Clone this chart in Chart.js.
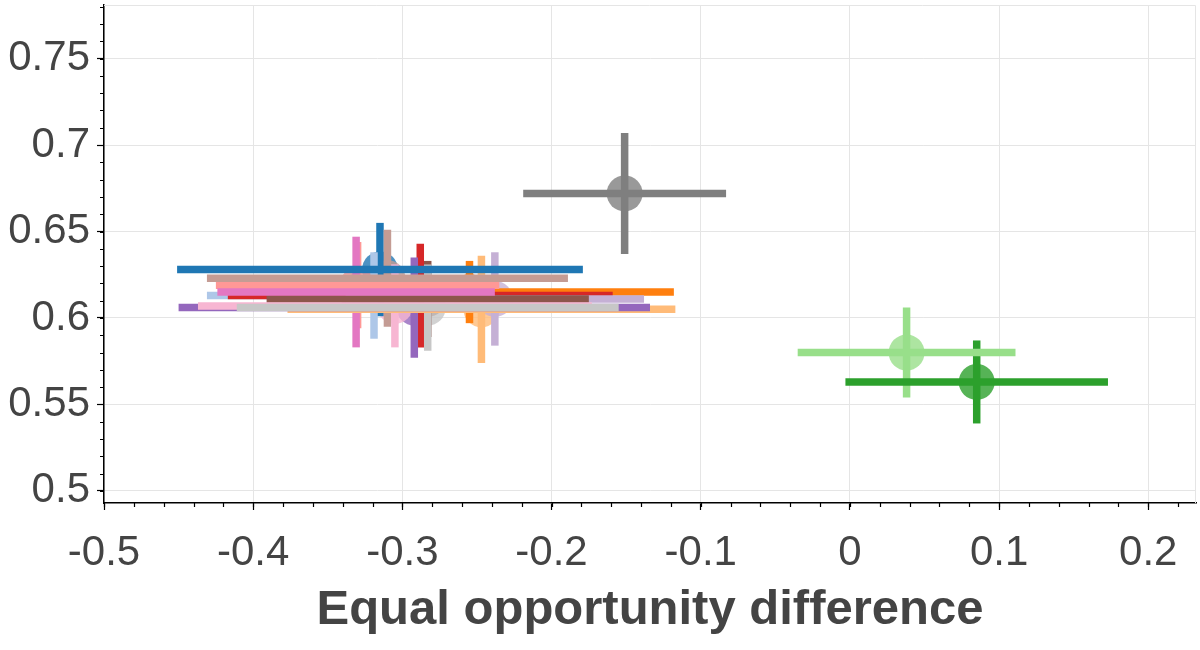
<!DOCTYPE html>
<html>
<head>
<meta charset="utf-8">
<script src="https://cdn.jsdelivr.net/npm/chart.js@4.4.1/dist/chart.umd.min.js"></script>
<style>
  html, body { margin: 0; padding: 0; background: #fff; }
  #wrap { width: 1200px; height: 650px; }
</style>
</head>
<body>
<div id="wrap"><canvas id="grafico" width="1200" height="650"></canvas></div>
<script>
// === DATOS (un punto por modelo, paleta tab20) ===
const colores = ['#1f77b4', '#aec7e8', '#ff7f0e', '#ffbb78', '#2ca02c', '#98df8a', '#d62728', '#ff9896',
                 '#9467bd', '#c5b0d5', '#8c564b', '#c49c94', '#e377c2', '#f7b6d2', '#7f7f7f', '#c7c7c7'];
const eqOpp    = [-0.315, -0.319, -0.255, -0.247, 0.085, 0.038, -0.288, -0.330,
                  -0.292, -0.238, -0.283, -0.310, -0.331, -0.305, -0.151, -0.283];
const eqOppErr = [0.136, 0.112, 0.137, 0.130, 0.088, 0.073, 0.129, 0.095,
                  0.158, 0.100, 0.108, 0.121, 0.093, 0.132, 0.068, 0.128];
const metrica    = [0.628, 0.613, 0.615, 0.605, 0.563, 0.580, 0.613, 0.619,
                    0.606, 0.611, 0.611, 0.623, 0.615, 0.607, 0.672, 0.606];
const metricaErr = [0.027, 0.025, 0.018, 0.031, 0.024, 0.026, 0.030, 0.025,
                    0.029, 0.027, 0.022, 0.028, 0.032, 0.024, 0.035, 0.025];

const xTicks = [-0.5, -0.4, -0.3, -0.2, -0.1, 0, 0.1, 0.2];
const xTickLabels = ['-0.5', '-0.4', '-0.3', '-0.2', '-0.1', '0', '0.1', '0.2'];
const yTicks = [0.5, 0.55, 0.6, 0.65, 0.7, 0.75];
const yTickLabels = ['0.5', '0.55', '0.6', '0.65', '0.7', '0.75'];

const FUENTE = "'Liberation Sans', Arial, Helvetica, sans-serif";
const GRIS_TEXTO = '#444444';

function conAlfa(hex, a) {
    const n = parseInt(hex.slice(1), 16);
    return `rgba(${(n >> 16) & 255}, ${(n >> 8) & 255}, ${n & 255}, ${a})`;
}

// === DATASETS ===
const datasets = [];

// círculos (debajo de todo)
datasets.push({
    data: eqOpp.map((x, i) => ({ x: x, y: metrica[i] })),
    pointRadius: 18,
    pointHoverRadius: 18,
    pointBackgroundColor: colores.map(c => conAlfa(c, 0.8)),
    pointBorderWidth: 0,
    showLine: false,
    order: 1000
});

// barras de error verticales, luego horizontales encima
eqOpp.forEach((x, i) => {
    datasets.push({
        data: [{ x: x, y: metrica[i] - metricaErr[i] }, { x: x, y: metrica[i] + metricaErr[i] }],
        showLine: true,
        borderColor: colores[i],
        borderWidth: 7.5,
        borderCapStyle: 'butt',
        pointRadius: 0,
        order: 500 - i
    });
});
eqOpp.forEach((x, i) => {
    datasets.push({
        data: [{ x: x - eqOppErr[i], y: metrica[i] }, { x: x + eqOppErr[i], y: metrica[i] }],
        showLine: true,
        borderColor: colores[i],
        borderWidth: 7.5,
        borderCapStyle: 'butt',
        pointRadius: 0,
        order: 100 - i
    });
});

// marco gris arriba/derecha y ticks menores
const marcoYTicks = {
    id: 'marcoYTicks',
    beforeDatasetsDraw(chart) {
        const { ctx, chartArea: a } = chart;
        ctx.save();
        ctx.strokeStyle = '#e5e5e5';
        ctx.lineWidth = 1;
        ctx.beginPath();
        ctx.moveTo(a.left, a.top + 0.5);
        ctx.lineTo(a.right - 0.5, a.top + 0.5);
        ctx.lineTo(a.right - 0.5, a.bottom);
        ctx.stroke();
        ctx.restore();
    },
    afterDraw(chart) {
        const { ctx, chartArea: a, scales } = chart;
        ctx.save();
        ctx.strokeStyle = '#000';
        ctx.lineWidth = 1.2;
        ctx.beginPath();
        for (let k = 0; ; k++) {
            const v = -0.5 + k * 0.02;
            if (v > scales.x.max) break;
            const px = Math.round(scales.x.getPixelForValue(v)) + 0.5;
            ctx.moveTo(px, a.bottom);
            ctx.lineTo(px, a.bottom + 4);
        }
        for (let k = 0; ; k++) {
            const v = 0.5 + k * 0.01;
            if (v > scales.y.max) break;
            const py = Math.round(scales.y.getPixelForValue(v)) + 0.5;
            ctx.moveTo(a.left, py);
            ctx.lineTo(a.left - 4, py);
        }
        ctx.stroke();
        ctx.restore();
    }
};

new Chart(document.getElementById('grafico'), {
    type: 'scatter',
    data: { datasets: datasets },
    plugins: [marcoYTicks],
    options: {
        responsive: false,
        animation: false,
        events: [],
        layout: { autoPadding: false, padding: { top: 5, right: 4, left: 0, bottom: 0 } },
        plugins: { legend: { display: false }, tooltip: { enabled: false } },
        scales: {
            x: {
                type: 'linear',
                min: -0.5,
                max: 0.232,
                afterBuildTicks: ax => { ax.ticks = xTicks.map(v => ({ value: v })); },
                afterFit: ax => { ax.height = 147; ax.paddingLeft = 0; ax.paddingRight = 0; },
                ticks: {
                    autoSkip: false,
                    maxRotation: 0,
                    padding: 18,
                    color: GRIS_TEXTO,
                    font: { family: FUENTE, size: 42 },
                    callback: v => xTickLabels[xTicks.indexOf(v)]
                },
                grid: { color: '#e5e5e5', lineWidth: 1, tickColor: '#000', tickLength: 7, tickWidth: 1.2 },
                border: { color: '#000', width: 1.5 },
                title: {
                    display: true,
                    text: 'Equal opportunity difference',
                    color: GRIS_TEXTO,
                    font: { family: FUENTE, size: 49, weight: 'bold' },
                    padding: { top: 0, bottom: 10 }
                }
            },
            y: {
                type: 'linear',
                min: 0.493,
                max: 0.781,
                afterBuildTicks: ax => { ax.ticks = yTicks.map(v => ({ value: v })); },
                afterFit: ax => { ax.width = 104; ax.paddingTop = 0; ax.paddingBottom = 0; },
                ticks: {
                    autoSkip: false,
                    padding: 7,
                    color: GRIS_TEXTO,
                    font: { family: FUENTE, size: 42 },
                    callback: v => yTickLabels[yTicks.indexOf(v)]
                },
                grid: { color: '#e5e5e5', lineWidth: 1, tickColor: '#000', tickLength: 7, tickWidth: 1.2 },
                border: { color: '#000', width: 1.5 }
            }
        }
    }
});
</script>
</body>
</html>
